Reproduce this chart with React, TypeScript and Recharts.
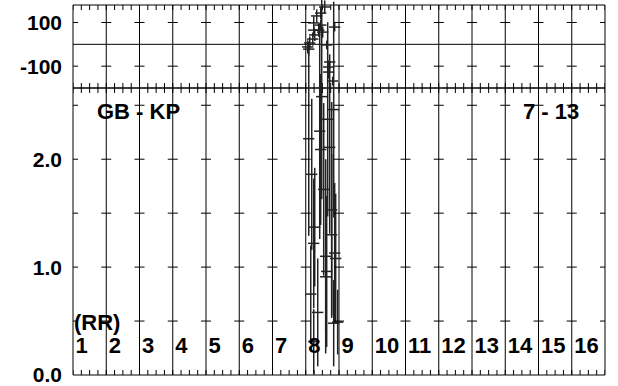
import React from "react";
import { ScatterChart, Scatter, XAxis, YAxis, ErrorBar, ReferenceLine } from "recharts";

// hour columns and tick labels
const hourLabels = ["1", "2", "3", "4", "5", "6", "7", "8", "9", "10", "11", "12", "13", "14", "15", "16"];
const hourLines = [1, 2, 3, 4, 5, 6, 7, 8, 9, 10, 11, 12, 13, 14, 15, 16, 17];
const ratioTicks = [0, 1, 2];
const ratioMarks = [0.5, 1, 1.5, 2, 2.5];
const ratioDomain = [0, 2.66];
const phaseTicks = [-100, 100];
const phaseMarks = [-100, 100];
const phaseDomain = [-200, 180];

// lower panel: amplitude ratio
const ratioX = [8.48, 8.09, 8.42, 8.66, 8.84, 8.45, 8.72, 8.18, 8.54, 8.78, 8.27, 8.24, 8.6, 8.78, 8.87, 8.9, 8.63, 8.6, 8.15, 8.36, 8.84, 8.96, 8.24];
const ratioY = [2.58, 2.19, 2.26, 2.37, 2.46, 2.09, 2.11, 1.86, 1.72, 1.53, 1.37, 1.22, 1.1, 1.3, 1.13, 1.08, 0.96, 0.91, 0.75, 0.58, 0.48, 0.49, 0.31];
const ratioErr = [0.95, 0.9, 1.0, 0.9, 1.0, 0.7, 0.8, 0.7, 0.8, 1.0, 0.55, 0.6, 0.9, 0.75, 0.65, 0.6, 0.7, 0.5, 0.45, 0.5, 0.4, 0.3, 0.3];

// upper panel: phase
const phaseX = [8.57, 8.45, 8.33, 8.24, 8.45, 8.87, 8.24, 8.39, 8.51, 8.27, 8.21, 8.12, 8.63, 8.06, 8.09, 8.72, 8.69, 8.69, 8.81];
const phaseY = [171, 143, 130, 98, 88, 79, 65, 65, 56, 43, 24, 6, -3, -12, -22, -81, -104, -127, -168];
const phaseErr = [30, 28, 30, 30, 25, 20, 30, 30, 25, 28, 30, 30, 20, 30, 30, 35, 30, 30, 20];

const HALF_HOUR = 0.17;
const FONT = "'Liberation Sans', Arial, sans-serif";

const ratioData = ratioX.map((x, i) => ({ x, y: ratioY[i], ye: ratioErr[i], xe: HALF_HOUR }));
const phaseData = phaseX.map((x, i) => ({ x, y: phaseY[i], ye: phaseErr[i], xe: HALF_HOUR }));

const quarters: number[] = [];
hourLines.forEach((h) => {
  [0, 0.25, 0.5, 0.75].forEach((q) => {
    if (h + q <= 17) quarters.push(h + q);
  });
});

function frameMarks(marks: number[], domain: number[]) {
  const out: any[] = [];
  hourLines.forEach((x) => marks.forEach((y) => out.push({ x, y, kind: "cross" })));
  quarters.forEach((x) => {
    out.push({ x, y: domain[0], kind: "up" });
    out.push({ x, y: domain[1], kind: "down" });
  });
  return out;
}

const Mark = (props: any) => {
  const { cx, cy, payload } = props;
  if (payload.kind === "cross") {
    const l = payload.x === 1 ? 0 : 5;
    const r = payload.x === 17 ? 0 : 5;
    return <line x1={cx - l} x2={cx + r} y1={cy} y2={cy} stroke="#000" strokeWidth={1} />;
  }
  const d = payload.kind === "up" ? -5 : 5;
  return <line x1={cx} x2={cx} y1={cy} y2={cy + d} stroke="#000" strokeWidth={1} />;
};

const HourTick = (props: any) => {
  const { x, y, payload } = props;
  if (payload.value > 16) return <g />;
  return (
    <text x={x + 2.5} y={y - 22} fontFamily={FONT} fontWeight="bold" fontSize={22} fill="#000">
      {hourLabels[payload.value - 1]}
    </text>
  );
};

const tickStyle = { fill: "#000", fontSize: 21, fontWeight: "bold", fontFamily: FONT };
const noShape = () => <g />;

export default function App() {
  return (
    <div style={{ position: "absolute", left: 0, top: 0, width: 618, height: 386, background: "#fff", fontFamily: FONT }}>
      <div style={{ position: "absolute", left: 0, top: 0 }}>
        <ScatterChart width={618} height={100} margin={{ top: 5, right: 13, bottom: 12, left: 0 }}>
          <XAxis type="number" dataKey="x" domain={[1, 17]} allowDataOverflow hide />
          <YAxis
            type="number"
            dataKey="y"
            domain={phaseDomain}
            allowDataOverflow
            ticks={phaseTicks}
            interval={0}
            width={73}
            axisLine={false}
            tickLine={false}
            tickMargin={5}
            tick={tickStyle}
          />
          {hourLines.map((h) => (
            <ReferenceLine key={h} x={h} stroke="#000" strokeWidth={1} />
          ))}
          <ReferenceLine y={0} stroke="#000" strokeWidth={1} />
          <ReferenceLine y={phaseDomain[1]} stroke="#000" strokeWidth={1} />
          <ReferenceLine y={phaseDomain[0]} stroke="#000" strokeWidth={1} />
          <Scatter data={frameMarks(phaseMarks, phaseDomain)} shape={Mark} isAnimationActive={false} />
          <Scatter data={phaseData} shape={noShape} isAnimationActive={false}>
            <ErrorBar dataKey="ye" direction="y" width={0} stroke="#222" strokeWidth={1.5} isAnimationActive={false} />
            <ErrorBar dataKey="xe" direction="x" width={0} stroke="#222" strokeWidth={1.5} isAnimationActive={false} />
          </Scatter>
        </ScatterChart>
      </div>
      <div style={{ position: "absolute", left: 0, top: 0 }}>
        <ScatterChart width={618} height={386} margin={{ top: 88, right: 13, bottom: 10, left: 0 }}>
          <XAxis
            type="number"
            dataKey="x"
            domain={[1, 17]}
            allowDataOverflow
            ticks={hourLines}
            interval={0}
            height={1}
            tickSize={0}
            tickMargin={0}
            tickLine={false}
            axisLine={false}
            tick={HourTick}
          />
          <YAxis
            type="number"
            dataKey="y"
            domain={ratioDomain}
            allowDataOverflow
            ticks={ratioTicks}
            interval={0}
            tickFormatter={(v: number) => v.toFixed(1)}
            width={73}
            axisLine={false}
            tickLine={false}
            tickMargin={5}
            tick={tickStyle}
          />
          {hourLines.map((h) => (
            <ReferenceLine key={h} x={h} stroke="#000" strokeWidth={1} />
          ))}
          <ReferenceLine y={ratioDomain[1]} stroke="#000" strokeWidth={1} />
          <ReferenceLine y={ratioDomain[0]} stroke="#000" strokeWidth={1} />
          <Scatter data={frameMarks(ratioMarks, ratioDomain)} shape={Mark} isAnimationActive={false} />
          <Scatter data={ratioData} shape={noShape} isAnimationActive={false}>
            <ErrorBar dataKey="ye" direction="y" width={0} stroke="#222" strokeWidth={1.5} isAnimationActive={false} />
            <ErrorBar dataKey="xe" direction="x" width={0} stroke="#222" strokeWidth={1.5} isAnimationActive={false} />
          </Scatter>
        </ScatterChart>
      </div>
      <div style={{ position: "absolute", left: 97, top: 101, fontSize: 22, lineHeight: "22px", fontWeight: "bold", whiteSpace: "pre" }}>
        GB - KP
      </div>
      <div style={{ position: "absolute", left: 523, top: 101, fontSize: 22, lineHeight: "22px", fontWeight: "bold", whiteSpace: "pre" }}>
        7 - 13
      </div>
      <div style={{ position: "absolute", left: 74, top: 312, fontSize: 22, lineHeight: "22px", fontWeight: "bold", whiteSpace: "pre" }}>
        (RR)
      </div>
    </div>
  );
}
